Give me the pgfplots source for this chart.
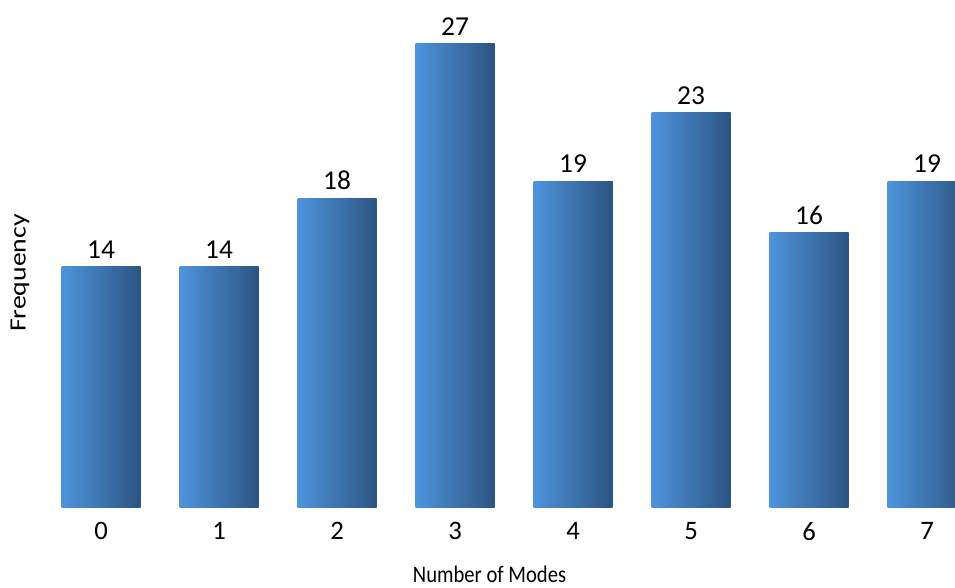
\documentclass[border=0pt]{standalone}
\usepackage{fontspec}
\setmainfont{Carlito}
\newfontfamily\titlefont{Carlito}[FakeStretch=0.87]
\newfontfamily\ylabfont{Carlito}[FakeStretch=1.19]
\usepackage{pgfplots}
\pgfplotsset{compat=1.18}
\definecolor{barL}{RGB}{78,148,220}
\definecolor{barR}{RGB}{44,84,130}
\definecolor{txt}{RGB}{0,0,0}
\begin{document}
\begin{tikzpicture}
\useasboundingbox (0,0) rectangle (716.25pt,440.25pt);
\begin{axis}[
  at={(0pt,60pt)}, anchor=south west,
  scale only axis, width=716.25pt, height=380.25pt,
  xmin=-0.856, xmax=7.237, ymin=0, ymax=29.56,
  axis line style={draw=none},
  major tick length=0pt,
  ytick=\empty,
  xtick={0,...,7},
  /pgf/number format/assume math mode=true,
  ticklabel style={font=\fontsize{20}{24}\selectfont, text=txt},
  xticklabel style={inner sep=0pt, anchor=north, yshift=-11.25pt},
  ybar, bar width=59.25pt, bar shift=0pt,
  nodes near coords,
  every node near coord/.append style={font=\fontsize{20.5}{24}\selectfont, inner sep=0pt, anchor=south, yshift=6pt, text=txt},
  xlabel={Number of Modes},
  xlabel style={at={(axis description cs:0.5126,0)}, anchor=base, yshift=-56.25pt, inner sep=0pt, font=\titlefont\fontsize{17.8}{21}\selectfont, text=txt},
  ylabel={Frequency},
  ylabel style={at={(axis description cs:0.021,0.4615)}, anchor=center, inner sep=0pt, font=\ylabfont\fontsize{17.5}{21}\selectfont, text=txt},
  clip=true,
  every axis plot/.append style={draw=none, left color=barL, right color=barR},
]
\addplot coordinates {(0,14)};
\addplot coordinates {(1,14)};
\addplot coordinates {(2,18)};
\addplot coordinates {(3,27)};
\addplot coordinates {(4,19)};
\addplot coordinates {(5,23)};
\addplot coordinates {(6,16)};
\addplot coordinates {(7,19)};
\end{axis}
\end{tikzpicture}
\end{document}
